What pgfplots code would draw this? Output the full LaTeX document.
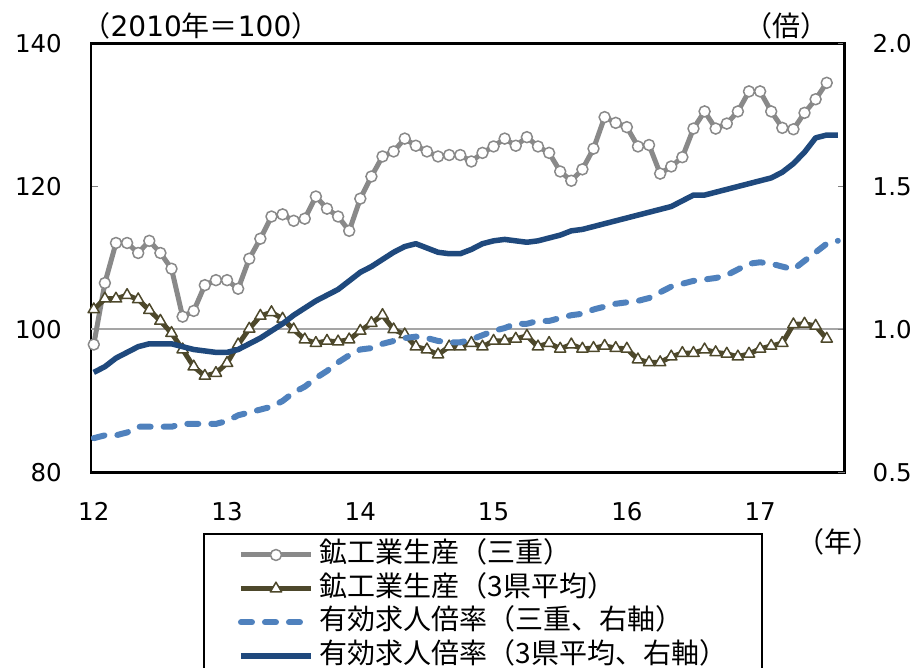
\documentclass[border=0pt]{standalone}
\usepackage{fontspec}
\usepackage{pgfplots}
\pgfplotsset{compat=1.18}
\usepackage{pgfplotstable}
\setmainfont{DejaVu Sans}
\newfontfamily\jp{Noto Sans CJK JP}

\definecolor{indgray}{RGB}{137,137,137}
\definecolor{indolive}{RGB}{77,72,43}
\definecolor{jobblue}{RGB}{79,129,189}
\definecolor{jobnavy}{RGB}{31,73,125}
\definecolor{refgray}{RGB}{165,165,165}

% Industrial production index (2010 = 100), monthly from Jan 2012
\pgfplotstableread{
m   mie    avg
0   97.9   102.8
1   106.5  104.3
2   112.1  104.3
3   112.1  104.8
4   110.7  104.2
5   112.4  102.7
6   110.7  101.2
7   108.5  99.5
8   101.8  97.2
9   102.6  94.8
10  106.2  93.5
11  106.9  93.9
12  106.9  95.3
13  105.7  97.9
14  109.9  100.1
15  112.7  101.9
16  115.8  102.4
17  116.1  101.5
18  115.2  100.0
19  115.5  98.6
20  118.6  98.1
21  116.9  98.4
22  115.8  98.3
23  113.8  98.6
24  118.3  99.8
25  121.4  100.9
26  124.2  102.0
27  124.9  100.0
28  126.7  99.3
29  125.7  97.6
30  124.9  97.2
31  124.2  96.5
32  124.4  97.6
33  124.4  97.6
34  123.5  98.1
35  124.7  97.6
36  125.6  98.4
37  126.7  98.4
38  125.7  98.7
39  126.9  99.1
40  125.6  97.6
41  124.7  98.1
42  122.1  97.3
43  120.8  97.9
44  122.4  97.3
45  125.3  97.4
46  129.7  97.7
47  128.9  97.4
48  128.3  97.3
49  125.6  95.8
50  125.8  95.4
51  121.8  95.4
52  122.8  96.2
53  124.1  96.7
54  128.1  96.7
55  130.5  97.2
56  128.1  96.8
57  128.8  96.6
58  130.5  96.2
59  133.3  96.6
60  133.3  97.3
61  130.5  97.7
62  128.2  98.1
63  128.0  100.7
64  130.3  100.8
65  132.2  100.5
66  134.5  98.7
}\prodtable

% Job openings-to-applicants ratio (times), monthly from Jan 2012
\pgfplotstableread{
m   mie    avg
0   0.62   0.85
1   0.63   0.87
2   0.63   0.90
3   0.64   0.92
4   0.66   0.94
5   0.66   0.95
6   0.66   0.95
7   0.66   0.95
8   0.67   0.94
9   0.67   0.93
10  0.67   0.925
11  0.67   0.92
12  0.68   0.92
13  0.70   0.93
14  0.71   0.95
15  0.72   0.97
16  0.73   0.995
17  0.75   1.02
18  0.78   1.05
19  0.80   1.075
20  0.83   1.10
21  0.855  1.12
22  0.885  1.14
23  0.91   1.17
24  0.93   1.20
25  0.935  1.22
26  0.95   1.245
27  0.96   1.27
28  0.97   1.29
29  0.975  1.30
30  0.97   1.285
31  0.96   1.27
32  0.955  1.265
33  0.955  1.265
34  0.965  1.28
35  0.98   1.30
36  0.995  1.31
37  1.005  1.315
38  1.02   1.31
39  1.02   1.305
40  1.03   1.31
41  1.03   1.32
42  1.04   1.33
43  1.05   1.345
44  1.055  1.35
45  1.07   1.36
46  1.08   1.37
47  1.09   1.38
48  1.095  1.39
49  1.10   1.40
50  1.11   1.41
51  1.13   1.42
52  1.15   1.43
53  1.16   1.45
54  1.17   1.47
55  1.175  1.47
56  1.18   1.48
57  1.19   1.49
58  1.21   1.50
59  1.23   1.51
60  1.235  1.52
61  1.23   1.53
62  1.22   1.55
63  1.21   1.58
64  1.24   1.62
65  1.27   1.67
66  1.30   1.68
67  1.31   1.68
}\jobtable

\pgfplotsset{
  frame/.style={
    at={(sw)}, anchor=south west,
    width=753.5pt, height=429pt, scale only axis,
    xmin=-0.25, xmax=67.6,
    /pgf/number format/assume math mode=true,
    tick label style={font=\fontsize{24.5}{28}\selectfont},
    tick align=inside, major tick length=7pt,
    tick style={color=gray, line width=1.5pt},
    axis line style={black, line width=2.5pt},
  },
  prodmie/.style={color=indgray, line width=5pt, line join=round,
    mark=*, mark size=5.5pt,
    mark options={fill=white, draw=indgray, line width=1.5pt, solid}},
  prodavg/.style={color=indolive, line width=5pt, line join=round,
    mark=triangle*, mark size=6.5pt,
    mark options={fill=white, draw=indolive, line width=1.5pt, solid}},
  jobmie/.style={color=jobblue, line width=6pt, line cap=round, line join=round,
    dash pattern=on 11pt off 13pt},
  jobavg/.style={color=jobnavy, line width=5.5pt, line join=round},
}

\begin{document}
\begin{tikzpicture}[x=1pt, y=1pt]
\useasboundingbox (0,0) rectangle (918,668);
\coordinate (sw) at (91,195.5);

% left axis: production index
\begin{axis}[
  frame,
  ymin=80, ymax=140,
  ytick={80,100,120,140},
  xtick={0,12,24,36,48,60},
  xticklabels={12,13,14,15,16,17},
  ytick pos=left, xtick pos=bottom,
  xtick style={draw=none},
  yticklabel style={inner sep=0pt, anchor=east, xshift=-29pt},
  xticklabel style={inner sep=0pt, anchor=north, yshift=-30pt},
]
\addplot[refgray, line width=2pt] coordinates {(-0.25,100) (67.6,100)};
\addplot[prodmie] table[x=m, y=mie] {\prodtable};
\addplot[prodavg] table[x=m, y=avg] {\prodtable};
\end{axis}

% right axis: job openings ratio
\begin{axis}[
  frame,
  ymin=0.5, ymax=2.0,
  ytick={0.5,1.0,1.5,2.0},
  axis x line=none, axis y line*=right,
  yticklabel style={inner sep=0pt, anchor=west, xshift=28pt,
    /pgf/number format/.cd, fixed, fixed zerofill, precision=1},
  legend cell align=left,
  legend image code/.code={%
    \draw[mark repeat=2, mark phase=2] plot coordinates {(0pt,0pt) (35pt,0pt) (70pt,0pt)};},
  legend style={at={(0.1486,-0.141)}, anchor=north west,
    draw=black, line width=2pt, fill=white,
    inner xsep=34pt, inner ysep=7pt,
    font=\jp\fontsize{28}{30}\selectfont,
    row sep=5.7pt, column sep=6pt,
    nodes={inner sep=0pt, text height=21.5pt, text depth=6.5pt}},
]
\addlegendimage{prodmie}
\addlegendentry{鉱工業生産（三重）}
\addlegendimage{prodavg}
\addlegendentry{鉱工業生産（3県平均）}
\addplot[jobmie] table[x=m, y=mie] {\jobtable};
\addlegendentry{有効求人倍率（三重、右軸）}
\addplot[jobavg] table[x=m, y=avg] {\jobtable};
\addlegendentry{有効求人倍率（3県平均、右軸）}
\end{axis}

\node[font=\fontsize{28}{30}\selectfont, anchor=center] at (201,642) {{\jp （}2010{\jp 年＝}100{\jp ）}};
\node[font=\jp\fontsize{28}{30}\selectfont, anchor=center] at (786,642) {（倍）};
\node[font=\jp\fontsize{28}{30}\selectfont, anchor=center] at (838,126) {（年）};
\end{tikzpicture}
\end{document}
